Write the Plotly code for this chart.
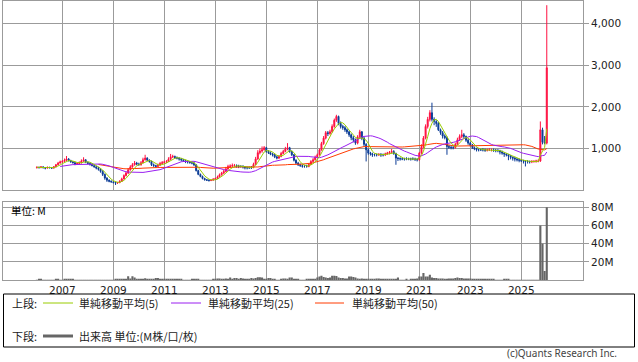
import plotly.graph_objects as go
import pandas as pd

# ---------------- data (monthly, Jan 2006 - Jan 2026) ----------------
months = pd.date_range("2006-01-01", "2026-01-01", freq="MS")
year_ticks = ["2007-01-01", "2009-01-01", "2011-01-01", "2013-01-01", "2015-01-01",
              "2017-01-01", "2019-01-01", "2021-01-01", "2023-01-01", "2025-01-01"]
year_labels = ["2007", "2009", "2011", "2013", "2015", "2017", "2019", "2021", "2023", "2025"]

open_ = [
    540, 550, 540, 560, 540, 530, 550, 540, 530, 560, 610, 650,
    680, 690, 720, 750, 710, 680, 660, 630, 640, 660, 700, 730,
    670, 640, 620, 590, 560, 530, 500, 450, 380, 290, 240, 215,
    200, 185, 170, 180, 210, 270, 350, 410, 490, 560, 610, 650,
    630, 610, 660, 730, 770, 720, 690, 610, 590, 570, 600, 640,
    660, 680, 690, 740, 800, 810, 780, 770, 750, 730, 710, 690,
    680, 660, 650, 610, 470, 380, 330, 280, 250, 240, 230, 240,
    260, 280, 320, 370, 410, 450, 510, 570, 580, 590, 590, 580,
    570, 570, 560, 540, 540, 540, 540, 620, 750, 900, 940, 970,
    1020, 930, 900, 870, 850, 800, 770, 810, 880, 930, 990, 1020,
    930, 850, 720, 650, 610, 590, 570, 570, 570, 620, 690, 730,
    790, 850, 970, 1120, 1250, 1380, 1360, 1400, 1530, 1680, 1770, 1600,
    1530, 1500, 1450, 1400, 1330, 1260, 1210, 1130, 1280, 1400, 1250, 1100,
    970, 890, 870, 850, 850, 850, 860, 850, 850, 870, 890, 910,
    930, 880, 770, 760, 750, 750, 750, 750, 750, 750, 750, 740,
    730, 890, 1050, 1250, 1530, 1700, 1860, 1700, 1650, 1600, 1450, 1380,
    1300, 1260, 1050, 1030, 1020, 1020, 1100, 1210, 1290, 1330, 1290, 1200,
    1130, 1080, 1020, 1000, 970, 970, 970, 970, 960, 970, 970, 970,
    960, 950, 950, 920, 890, 870, 850, 820, 790, 770, 750, 730,
    720, 700, 700, 690, 690, 680, 690, 690, 700, 700, 1450, 1150,
    1130,
]
high = [
    570, 565, 575, 570, 550, 565, 560, 550, 580, 630, 680, 710,
    720, 760, 820, 770, 730, 700, 680, 670, 690, 740, 790, 740,
    690, 670, 650, 620, 590, 560, 530, 480, 400, 310, 260, 235,
    215, 200, 200, 240, 300, 380, 450, 530, 600, 650, 700, 680,
    660, 700, 780, 850, 790, 740, 710, 640, 610, 640, 680, 700,
    710, 720, 790, 870, 850, 830, 810, 790, 770, 750, 730, 720,
    700, 690, 680, 620, 490, 400, 350, 300, 270, 260, 260, 290,
    300, 350, 400, 440, 490, 560, 610, 620, 640, 630, 620, 610,
    600, 600, 580, 570, 570, 580, 660, 800, 960, 1000, 1050, 1060,
    1040, 960, 930, 900, 870, 830, 840, 920, 970, 1040, 1130, 1040,
    950, 870, 740, 680, 640, 620, 600, 610, 650, 720, 770, 830,
    880, 1000, 1160, 1300, 1420, 1420, 1450, 1580, 1720, 1810, 1790, 1650,
    1570, 1540, 1480, 1430, 1360, 1300, 1240, 1320, 1450, 1420, 1280, 1130,
    1000, 920, 900, 880, 880, 890, 890, 880, 900, 920, 940, 990,
    960, 900, 800, 790, 780, 780, 790, 780, 780, 790, 780, 770,
    920, 1100, 1300, 1580, 1760, 1920, 2100, 1750, 1680, 1640, 1480, 1420,
    1340, 1290, 1090, 1070, 1060, 1140, 1260, 1340, 1450, 1370, 1310, 1230,
    1160, 1110, 1050, 1020, 1000, 1000, 1010, 1000, 1000, 1010, 1000, 1000,
    990, 990, 970, 950, 910, 890, 870, 840, 810, 800, 770, 760,
    740, 730, 720, 720, 710, 720, 720, 730, 740, 1650, 1500, 1300,
    4440,
]
low = [
    520, 525, 530, 525, 500, 520, 525, 510, 520, 550, 600, 640,
    650, 670, 700, 690, 660, 640, 600, 610, 620, 640, 680, 650,
    620, 590, 570, 540, 500, 470, 420, 340, 250, 200, 190, 180,
    160, 125, 150, 170, 200, 260, 330, 390, 470, 540, 590, 600,
    590, 590, 640, 710, 700, 660, 580, 560, 540, 560, 590, 620,
    630, 650, 680, 720, 770, 750, 740, 710, 690, 680, 650, 640,
    640, 620, 580, 450, 360, 310, 260, 230, 220, 210, 220, 230,
    250, 270, 310, 350, 390, 430, 490, 540, 550, 560, 540, 530,
    540, 520, 500, 500, 510, 510, 530, 600, 730, 860, 900, 950,
    900, 870, 840, 810, 770, 740, 750, 790, 860, 910, 960, 900,
    820, 690, 620, 580, 560, 540, 540, 540, 550, 600, 670, 710,
    770, 830, 950, 1090, 1220, 1300, 1330, 1380, 1500, 1640, 1560, 1480,
    1450, 1400, 1350, 1280, 1200, 1150, 1090, 1100, 1250, 1200, 1050, 690,
    850, 830, 800, 810, 810, 820, 800, 810, 820, 850, 860, 880,
    850, 610, 700, 710, 720, 710, 720, 720, 710, 720, 700, 690,
    710, 860, 1010, 1220, 1480, 1650, 1650, 1560, 1520, 1420, 1330, 1240,
    1220, 850, 990, 980, 980, 1000, 1080, 1180, 1250, 1250, 1160, 1090,
    1050, 990, 960, 930, 930, 940, 930, 920, 930, 940, 930, 920,
    910, 910, 860, 850, 800, 810, 720, 740, 710, 690, 690, 670,
    680, 640, 570, 640, 640, 650, 660, 660, 670, 680, 1100, 1100,
    1100,
]
close = [
    550, 540, 560, 540, 530, 550, 540, 530, 560, 610, 650, 680,
    690, 720, 750, 710, 680, 660, 630, 640, 660, 700, 730, 670,
    640, 620, 590, 560, 530, 500, 450, 380, 290, 240, 215, 200,
    185, 170, 180, 210, 270, 350, 410, 490, 560, 610, 650, 630,
    610, 660, 730, 770, 720, 690, 610, 590, 570, 600, 640, 660,
    680, 690, 740, 800, 810, 780, 770, 750, 730, 710, 690, 680,
    660, 650, 610, 470, 380, 330, 280, 250, 240, 230, 240, 260,
    280, 320, 370, 410, 450, 510, 570, 580, 590, 590, 580, 570,
    570, 560, 540, 540, 540, 540, 620, 750, 900, 940, 970, 1020,
    930, 900, 870, 850, 800, 770, 810, 880, 930, 990, 1020, 930,
    850, 720, 650, 610, 590, 570, 570, 570, 620, 690, 730, 790,
    850, 970, 1120, 1250, 1380, 1360, 1400, 1530, 1680, 1770, 1600, 1530,
    1500, 1450, 1400, 1330, 1260, 1210, 1130, 1280, 1400, 1250, 1100, 970,
    890, 870, 850, 850, 850, 860, 850, 850, 870, 890, 910, 930,
    880, 770, 760, 750, 750, 750, 750, 750, 750, 750, 740, 730,
    890, 1050, 1250, 1530, 1700, 1860, 1700, 1650, 1600, 1450, 1380, 1300,
    1260, 1050, 1030, 1020, 1020, 1100, 1210, 1290, 1330, 1290, 1200, 1130,
    1080, 1020, 1000, 970, 970, 970, 970, 960, 970, 970, 970, 960,
    950, 950, 920, 890, 870, 850, 820, 790, 770, 750, 730, 720,
    700, 700, 690, 690, 680, 690, 690, 700, 700, 1450, 1150, 1130,
    2940,
]
volume_m = [
    0.5, 1.0, 1.0, 0.4, 0.3, 0.3, 0.3, 0.4, 0.5, 1.0, 0.6, 0.5,
    0.5, 0.6, 0.8, 1.0, 1.0, 1.0, 0.5, 0.4, 0.3, 0.3, 0.3, 0.3,
    0.3, 0.3, 0.3, 0.3, 0.3, 0.3, 0.3, 0.3, 0.3, 0.4, 0.4, 0.5,
    0.5, 0.6, 0.8, 1.2, 1.2, 1.5, 1.2, 4.4, 2.0, 4.4, 3.0, 1.0,
    1.0, 1.0, 1.2, 2.2, 1.5, 0.8, 1.5, 1.2, 2.5, 2.5, 1.0, 0.6,
    0.6, 1.2, 1.2, 1.5, 1.2, 1.2, 1.0, 1.2, 1.0, 0.5, 0.4, 0.4,
    0.4, 1.0, 1.0, 1.0, 1.0, 0.3, 0.3, 0.3, 0.3, 0.4, 0.5, 0.8,
    1.5, 2.0, 2.0, 1.5, 1.0, 2.0, 1.2, 3.0, 1.5, 2.5, 2.5, 1.5,
    2.5, 2.0, 1.2, 1.0, 1.5, 2.5, 2.0, 2.5, 3.3, 3.3, 3.0, 1.5,
    1.2, 2.5, 2.5, 1.0, 1.0, 0.5, 0.5, 1.5, 2.0, 2.0, 1.5, 3.0,
    3.0, 1.5, 1.5, 1.0, 0.5, 0.5, 0.5, 0.8, 0.6, 0.8, 1.2, 1.5,
    3.0, 4.0, 5.0, 3.5, 3.0, 2.5, 3.0, 5.0, 5.0, 4.5, 3.0, 2.5,
    2.5, 2.0, 2.0, 4.0, 4.0, 3.5, 3.0, 2.0, 1.5, 2.0, 1.5, 1.5,
    1.5, 1.2, 1.2, 1.5, 2.0, 2.0, 1.5, 1.5, 1.0, 1.0, 0.8, 0.8,
    0.8, 1.0, 3.0, 0.5, 0.5, 0.5, 0.6, 0.5, 1.5, 1.5, 1.2, 2.0,
    4.0, 4.0, 8.0, 4.0, 4.0, 6.0, 3.0, 2.5, 2.5, 2.0, 2.0, 2.0,
    1.5, 1.5, 2.0, 2.0, 2.0, 2.5, 3.0, 2.5, 2.5, 2.0, 2.0, 2.0,
    2.0, 1.5, 1.5, 1.2, 1.2, 1.2, 1.2, 1.0, 1.2, 1.2, 1.0, 0.8,
    0.5, 0.5, 0.5, 0.5, 1.2, 1.2, 1.0, 0.5, 0.5, 0.5, 0.3, 0.3,
    0.3, 0.3, 0.3, 0.3, 0.5, 0.5, 0.3, 0.3, 0.5, 60, 40, 10,
    80,
]

price_ticks = [1000, 2000, 3000, 4000]
vol_ticks = [20, 40, 60, 80]
vol_tick_text = ["20M", "40M", "60M", "80M"]
ma_labels = ["単純移動平均(5)", "単純移動平均(25)", "単純移動平均(50)"]

# ---------------- derived indicators ----------------
cs = pd.Series(close, index=months, dtype=float)
ma5 = cs.rolling(5, min_periods=1).mean()
ma25 = cs.rolling(25, min_periods=12).mean()
ma50 = cs.rolling(50, min_periods=30).mean()

# ---------------- styling ----------------
W, H = 638, 362
RED = "#FF1040"
BLUE = "#0B3C96"
C5, C25, C50 = "#99CC00", "#9A1EF0", "#FF3A00"
GRID = "#9B9B9B"
TXT = "#222222"
NUM_FONT = "DejaVu Sans"
JP_FONT = "Noto Sans CJK JP"


def px(x):
    return x / W


def py(y):
    return 1 - y / H


fig = go.Figure()
fig.add_trace(go.Candlestick(
    x=months, open=open_, high=high, low=low, close=close,
    increasing=dict(line=dict(color=RED, width=1), fillcolor=RED),
    decreasing=dict(line=dict(color=BLUE, width=1), fillcolor=BLUE),
    whiskerwidth=0, xaxis="x", yaxis="y", showlegend=False,
))
for s, c in [(ma50, C50), (ma25, C25), (ma5, C5)]:
    fig.add_trace(go.Scatter(x=months, y=s, mode="lines",
                             line=dict(color=c, width=1),
                             xaxis="x", yaxis="y", showlegend=False))
fig.add_trace(go.Bar(x=months, y=volume_m, marker=dict(color="#666666", line=dict(width=0)),
                     width=30 * 86400000, xaxis="x2", yaxis="y2", showlegend=False))

xr = ["2004-09-07", "2027-06-04"]
xcommon = dict(range=xr, domain=[px(3.3), px(583)], type="date",
               tickmode="array", tickvals=year_ticks, ticktext=year_labels,
               showgrid=True, gridcolor=GRID, gridwidth=1,
               showline=True, linecolor=GRID, linewidth=1, mirror=True,
               zeroline=False, automargin=False, fixedrange=True)
ycommon = dict(side="right", showgrid=True, gridcolor=GRID, gridwidth=1,
               showline=True, linecolor=GRID, linewidth=1, mirror=True,
               ticks="outside", ticklen=5, tickcolor=GRID, zeroline=False,
               automargin=False, tickfont=dict(family=NUM_FONT, size=10.5, color=TXT))

fig.update_layout(
    template="none",
    width=W, height=H,
    margin=dict(l=0, r=0, t=0, b=0),
    paper_bgcolor="white", plot_bgcolor="white",
    showlegend=False,
    xaxis=dict(**xcommon, anchor="y", showticklabels=False,
               rangeslider=dict(visible=False)),
    xaxis2=dict(**xcommon, anchor="y2", showticklabels=True,
                ticks="", tickfont=dict(family=NUM_FONT, size=10.5, color=TXT)),
    yaxis=dict(**ycommon, domain=[py(190.2), py(0.5)], range=[0, 4553],
               tickvals=price_ticks, tickformat=",d", anchor="x"),
    yaxis2=dict(**ycommon, domain=[py(280.2), py(201.7)], range=[0, 86.1],
                tickvals=vol_ticks, ticktext=vol_tick_text, anchor="x2"),
)

shapes = []
annotations = []
# legend box
shapes.append(dict(type="rect", xref="paper", yref="paper",
                   x0=px(3.5), x1=px(634.5), y0=py(347), y1=py(294),
                   line=dict(color="#000000", width=1), fillcolor="rgba(0,0,0,0)"))
ly1, ly2 = 303, 336
for (x0, x1, xt), lab, col in zip([(43, 73, 77), (171, 201, 206), (315, 344, 350)],
                                  ma_labels, [C5, C25, C50]):
    shapes.append(dict(type="line", xref="paper", yref="paper",
                       x0=px(x0), x1=px(x1), y0=py(ly1), y1=py(ly1),
                       line=dict(color=col, width=1)))
    annotations.append(dict(text=lab, x=px(xt), y=py(ly1), xref="paper", yref="paper",
                            xanchor="left", yanchor="middle", showarrow=False,
                            font=dict(family=JP_FONT, size=11, color=TXT)))
shapes.append(dict(type="line", xref="paper", yref="paper",
                   x0=px(43), x1=px(73), y0=py(ly2), y1=py(ly2),
                   line=dict(color="#666666", width=3)))
annotations.append(dict(text="上段:", x=px(10), y=py(ly1), xref="paper", yref="paper",
                        xanchor="left", yanchor="middle", showarrow=False,
                        font=dict(family=JP_FONT, size=11, color=TXT)))
annotations.append(dict(text="下段:", x=px(10), y=py(ly2), xref="paper", yref="paper",
                        xanchor="left", yanchor="middle", showarrow=False,
                        font=dict(family=JP_FONT, size=11, color=TXT)))
annotations.append(dict(text="出来高 単位:(M株/口/枚)", x=px(77), y=py(ly2), xref="paper", yref="paper",
                        xanchor="left", yanchor="middle", showarrow=False,
                        font=dict(family=JP_FONT, size=11, color=TXT)))
annotations.append(dict(text="単位: M", x=px(9), y=py(210), xref="paper", yref="paper",
                        xanchor="left", yanchor="middle", showarrow=False,
                        font=dict(family=JP_FONT, size=10.5, color="#000000")))
annotations.append(dict(text="(c)Quants Research Inc.", x=px(618), y=py(361), xref="paper", yref="paper",
                        xanchor="right", yanchor="bottom", showarrow=False,
                        borderpad=0,
                        font=dict(family="Noto Sans", size=10, color="#444444")))
fig.update_layout(shapes=shapes, annotations=annotations)

fig.write_html("out.html")
